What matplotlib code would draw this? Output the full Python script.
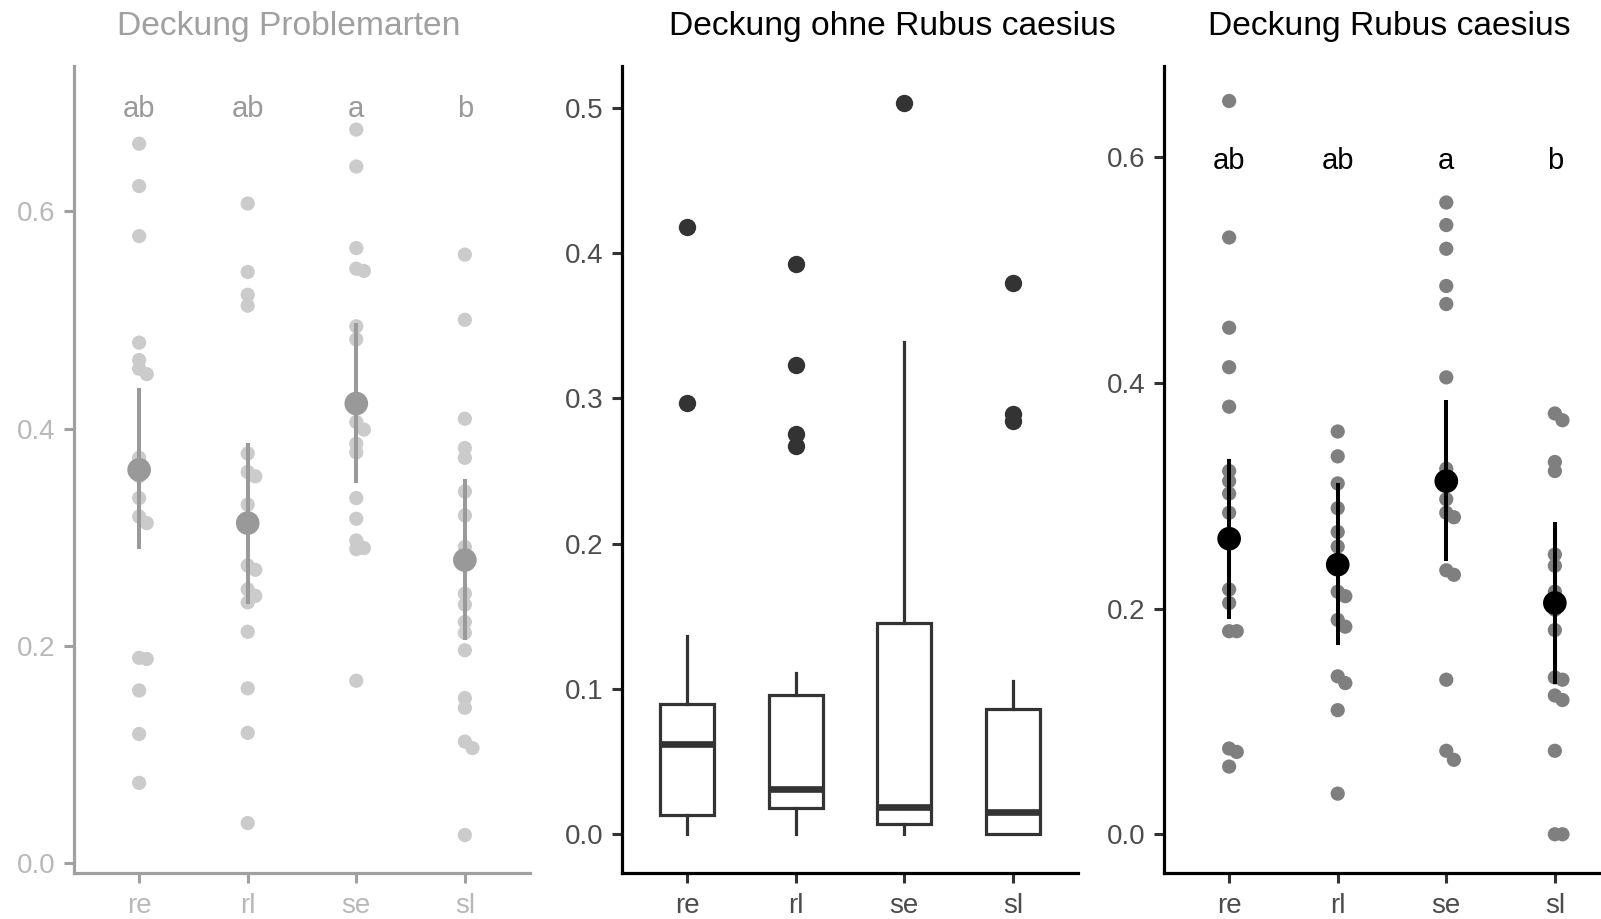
import matplotlib
matplotlib.use("Agg")
import matplotlib.pyplot as plt
import numpy as np

plt.rcParams["font.family"] = ["Liberation Sans", "DejaVu Sans"]

# ---------------------------------------------------------------- data
categories = ["re", "rl", "se", "sl"]
letters = ["ab", "ab", "a", "b"]

# Panel 1: Deckung Problemarten (single plots, mean and interval)
total_re = [0.662, 0.623, 0.577, 0.479, 0.463, 0.455, 0.450, 0.373, 0.356,
            0.336, 0.319, 0.313, 0.189, 0.188, 0.159, 0.119, 0.074]
total_rl = [0.607, 0.544, 0.523, 0.513, 0.377, 0.360, 0.356, 0.330, 0.274,
            0.270, 0.252, 0.246, 0.240, 0.213, 0.161, 0.120, 0.037]
total_se = [0.675, 0.641, 0.566, 0.547, 0.545, 0.494, 0.482, 0.406, 0.399,
            0.386, 0.378, 0.336, 0.317, 0.297, 0.290, 0.289, 0.168]
total_sl = [0.560, 0.500, 0.409, 0.382, 0.373, 0.342, 0.320, 0.291, 0.283,
            0.248, 0.238, 0.222, 0.212, 0.196, 0.152, 0.143, 0.112, 0.106, 0.026]
total_mean = [0.362, 0.313, 0.423, 0.279]
total_lo = [0.289, 0.239, 0.350, 0.205]
total_hi = [0.437, 0.387, 0.497, 0.354]

# Panel 2: Deckung ohne Rubus caesius (boxplot statistics)
box_whislo = [0.0, 0.0, 0.0, 0.0]
box_q1 = [0.0133, 0.0179, 0.0069, 0.0]
box_med = [0.062, 0.031, 0.019, 0.0156]
box_q3 = [0.0895, 0.0959, 0.1457, 0.086]
box_whishi = [0.1365, 0.1108, 0.339, 0.1055]
box_fliers = [[0.4177, 0.297],
              [0.3925, 0.323, 0.2755, 0.267],
              [0.5035],
              [0.3796, 0.2893, 0.2847]]

# Panel 3: Deckung Rubus caesius
rubus_re = [0.650, 0.529, 0.449, 0.414, 0.379, 0.322, 0.313, 0.302, 0.285,
            0.217, 0.205, 0.180, 0.180, 0.076, 0.073, 0.060]
rubus_rl = [0.357, 0.335, 0.311, 0.289, 0.268, 0.255, 0.215, 0.211, 0.190,
            0.184, 0.140, 0.134, 0.110, 0.036]
rubus_se = [0.560, 0.540, 0.519, 0.486, 0.470, 0.405, 0.324, 0.310, 0.297,
            0.285, 0.281, 0.234, 0.230, 0.137, 0.074, 0.066]
rubus_sl = [0.373, 0.367, 0.330, 0.322, 0.248, 0.238, 0.215, 0.199, 0.181,
            0.139, 0.137, 0.123, 0.119, 0.074, 0.0, 0.0]
rubus_mean = [0.262, 0.239, 0.313, 0.205]
rubus_lo = [0.191, 0.168, 0.242, 0.133]
rubus_hi = [0.333, 0.311, 0.385, 0.277]

titles = ["Deckung Problemarten", "Deckung ohne Rubus caesius", "Deckung Rubus caesius"]

# ---------------------------------------------------------------- layout
W, H = 1601, 919
fig = plt.figure(figsize=(W / 100, H / 100), dpi=100)

Y_BOTTOM, Y_TOP = 873.3, 66.0
PANEL_W = 456.0


def panel(x0):
    return fig.add_axes([x0 / W, (H - Y_BOTTOM) / H, PANEL_W / W,
                         (Y_BOTTOM - Y_TOP) / H])


def style(ax, line_col, label_col, tick_col):
    for s in ("top", "right"):
        ax.spines[s].set_visible(False)
    for s in ("left", "bottom"):
        ax.spines[s].set_color(line_col)
        ax.spines[s].set_linewidth(2.3)
        ax.spines[s].set_capstyle("projecting")
    ax.tick_params(axis="both", direction="out", length=7.5, width=2.2,
                   color=tick_col, labelcolor=label_col, labelsize=20)
    ax.tick_params(axis="x", pad=7)
    ax.tick_params(axis="y", pad=6)
    ax.set_xticks(range(1, len(categories) + 1))
    ax.set_xticklabels(categories)
    ax.set_xlim(0.4, 4.6)
    ax.patch.set_visible(False)


def dodge(values, tol=0.008, step=0.07):
    """Small horizontal offsets for points that would sit on top of each other."""
    placed = []
    offs = []
    for v in values:
        o = 0.0
        k = 0
        while any(abs(v - pv) < tol and abs(o - po) < 1e-9 for pv, po in placed):
            k += 1
            o = step * ((k + 1) // 2) * (1 if k % 2 else -1)
        placed.append((v, o))
        offs.append(o)
    return np.array(offs)


def dot_panel(ax, groups, means, lo, hi, pt_col, mean_col, bar_col):
    for i, vals in enumerate(groups, start=1):
        xs = i + dodge(vals)
        ax.scatter(xs, vals, s=105, color=pt_col, edgecolors="none", zorder=2)
    xs = np.arange(1, len(means) + 1)
    ax.vlines(xs, lo, hi, color=bar_col, linewidth=2.9, zorder=3)
    ax.scatter(xs, means, s=290, color=mean_col, edgecolors="none", zorder=4)


# Panel 1 (faded)
ax1 = panel(74)
dot_panel(ax1, [total_re, total_rl, total_se, total_sl], total_mean, total_lo,
          total_hi, pt_col="#cbcbcb", mean_col="#999999", bar_col="#9a9a9a")
for i, t in enumerate(letters, start=1):
    ax1.text(i, 0.694, t, ha="center", va="center", fontsize=21, color="#9a9a9a")
ax1.set_ylim(-0.0092, 0.7335)
ax1.set_yticks([0.0, 0.2, 0.4, 0.6])
ax1.set_yticklabels(["0.0", "0.2", "0.4", "0.6"])
style(ax1, "#a0a0a0", "#b8b8b8", "#a0a0a0")

# Panel 2 (boxplot)
ax2 = panel(622)
stats = []
for i, c in enumerate(categories):
    stats.append(dict(label=c, whislo=box_whislo[i], q1=box_q1[i], med=box_med[i],
                      q3=box_q3[i], whishi=box_whishi[i], fliers=box_fliers[i]))
edge = "#333333"
ax2.bxp(stats, positions=range(1, 5), widths=0.5, showcaps=False, patch_artist=True,
        boxprops=dict(facecolor="white", edgecolor=edge, linewidth=2.3),
        whiskerprops=dict(color=edge, linewidth=2.3),
        medianprops=dict(color=edge, linewidth=4.8, solid_capstyle="butt"),
        flierprops=dict(marker="o", markersize=12.5, markerfacecolor=edge,
                        markeredgecolor="none"))
ax2.set_ylim(-0.0268, 0.5288)
ax2.set_yticks([0.0, 0.1, 0.2, 0.3, 0.4, 0.5])
ax2.set_yticklabels(["0.0", "0.1", "0.2", "0.3", "0.4", "0.5"])
style(ax2, "black", "#4d4d4d", "#333333")

# Panel 3
ax3 = panel(1164)
dot_panel(ax3, [rubus_re, rubus_rl, rubus_se, rubus_sl], rubus_mean, rubus_lo,
          rubus_hi, pt_col="#7f7f7f", mean_col="black", bar_col="black")
for i, t in enumerate(letters, start=1):
    ax3.text(i, 0.597, t, ha="center", va="center", fontsize=21, color="black")
ax3.set_ylim(-0.0346, 0.681)
ax3.set_yticks([0.0, 0.2, 0.4, 0.6])
ax3.set_yticklabels(["0.0", "0.2", "0.4", "0.6"])
style(ax3, "black", "#4d4d4d", "#333333")

# Titles
title_x = [117, 669, 1208]
title_col = ["#a0a0a0", "black", "black"]
for x, t, c in zip(title_x, titles, title_col):
    fig.text(x / W, (H - 27) / H, t, ha="left", va="center", fontsize=24.2, color=c)

fig.savefig("out.png", dpi=100)
